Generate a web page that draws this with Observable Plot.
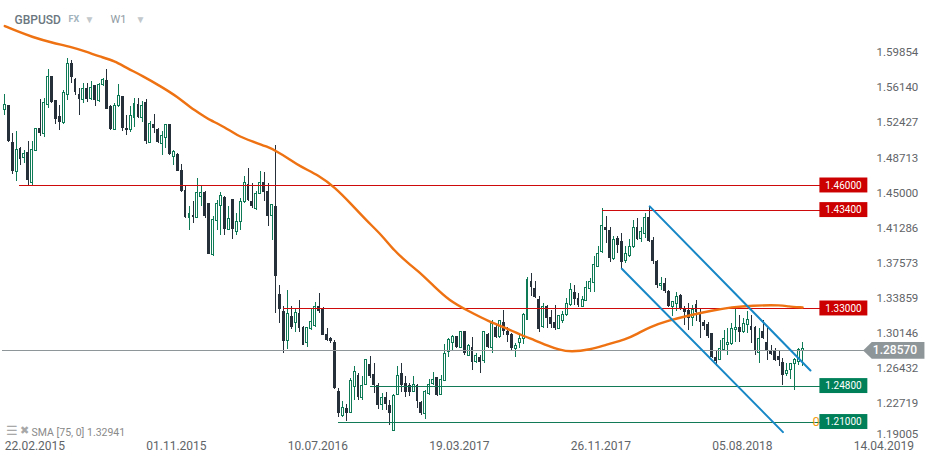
<!DOCTYPE html>
<html><head><meta charset="utf-8">
<script src="https://cdn.jsdelivr.net/npm/d3@7"></script>
<script src="https://cdn.jsdelivr.net/npm/@observablehq/plot@0.6"></script>
<style>html,body{margin:0;padding:0;background:#fff}svg{display:block}</style>
</head><body><div id="chart"></div>
<script>
const opens=[1.5401,1.5447,1.5056,1.4743,1.4990,1.4891,1.4947,1.4627,1.4965,1.5200,1.5148,1.5454,1.5753,1.5500,1.5324,1.5261,1.5560,1.5887,1.5718,1.5563,1.5507,1.5627,1.5514,1.5658,1.5493,1.5665,1.5711,1.5437,1.5183,1.5437,1.5542,1.5204,1.5190,1.5317,1.5458,1.5317,1.5475,1.5053,1.5247,1.5194,1.5042,1.5106,1.5247,1.4902,1.4930,1.4761,1.4550,1.4261,1.4286,1.4261,1.4479,1.4521,1.4409,1.3863,1.4226,1.4381,1.4472,1.4127,1.4451,1.4110,1.4215,1.4426,1.4613,1.4426,1.4356,1.4514,1.4630,1.4539,1.4275,1.4381,1.3449,1.3266,1.2956,1.3216,1.3149,1.3244,1.3097,1.2935,1.3082,1.3118,1.3322,1.3297,1.3026,1.2980,1.2945,1.2421,1.2160,1.2245,1.2195,1.2470,1.2593,1.2350,1.2491,1.2706,1.2604,1.2488,1.2280,1.2364,1.2276,1.2005,1.2386,1.2611,1.2505,1.2488,1.2417,1.2488,1.2305,1.2181,1.2393,1.2498,1.2569,1.2389,1.2533,1.2840,1.2935,1.3005,1.2885,1.3054,1.2801,1.2885,1.2730,1.2780,1.2745,1.3026,1.2885,1.3104,1.2998,1.3156,1.3061,1.3026,1.2871,1.2935,1.2975,1.3182,1.3590,1.3510,1.3397,1.3105,1.3316,1.3203,1.3150,1.3087,1.3168,1.3228,1.3334,1.3464,1.3408,1.3316,1.3379,1.3510,1.3570,1.3738,1.3900,1.4161,1.4119,1.3823,1.4041,1.4006,1.3802,1.3858,1.3950,1.4154,1.4034,1.4090,1.4259,1.4020,1.3798,1.3534,1.3562,1.3481,1.3316,1.3344,1.3439,1.3288,1.3281,1.3203,1.3344,1.3246,1.3150,1.3130,1.3034,1.2777,1.2753,1.2858,1.2915,1.2922,1.3077,1.3101,1.3056,1.3126,1.3112,1.3098,1.2834,1.3052,1.2943,1.2858,1.2848,1.2795,1.2732,1.2605,1.2647,1.2718,1.2735,1.2851];
const highs=[1.5563,1.5447,1.5148,1.5173,1.5000,1.4972,1.5060,1.5070,1.5200,1.5507,1.5518,1.5824,1.5753,1.5500,1.5447,1.5606,1.5940,1.5922,1.5729,1.5623,1.5676,1.5676,1.5701,1.5658,1.5676,1.5729,1.5827,1.5447,1.5465,1.5665,1.5542,1.5342,1.5430,1.5518,1.5518,1.5490,1.5507,1.5271,1.5352,1.5200,1.5166,1.5247,1.5247,1.4965,1.4937,1.4824,1.4602,1.4381,1.4426,1.4673,1.4602,1.4532,1.4409,1.4268,1.4444,1.4521,1.4479,1.4374,1.4451,1.4303,1.4462,1.4690,1.4778,1.4620,1.4532,1.4743,1.4733,1.4620,1.4402,1.5025,1.3544,1.3322,1.3491,1.3322,1.3304,1.3385,1.3110,1.3104,1.3287,1.3360,1.3456,1.3308,1.3086,1.2998,1.2963,1.2452,1.2312,1.2283,1.2558,1.2688,1.2611,1.2576,1.2752,1.2794,1.2716,1.2512,1.2400,1.2417,1.2329,1.2393,1.2688,1.2716,1.2583,1.2512,1.2583,1.2495,1.2312,1.2428,1.2547,1.2628,1.2569,1.2593,1.2920,1.2980,1.3016,1.3005,1.3058,1.3058,1.2920,1.2991,1.2822,1.2804,1.3054,1.3040,1.3174,1.3146,1.3174,1.3280,1.3104,1.3033,1.2935,1.3016,1.3246,1.3626,1.3668,1.3590,1.3422,1.3351,1.3334,1.3281,1.3334,1.3228,1.3263,1.3404,1.3562,1.3545,1.3457,1.3422,1.3580,1.3615,1.3851,1.3957,1.4354,1.4273,1.4154,1.4062,1.4062,1.4090,1.3957,1.4027,1.4231,1.4256,1.4161,1.4302,1.4379,1.4048,1.3809,1.3626,1.3615,1.3492,1.3369,1.3467,1.3450,1.3316,1.3351,1.3334,1.3386,1.3288,1.3175,1.3147,1.3034,1.2858,1.2964,1.3063,1.3087,1.3140,1.3316,1.3228,1.3193,1.3263,1.3228,1.3105,1.3087,1.3175,1.3087,1.2911,1.2876,1.2841,1.2770,1.2718,1.2718,1.2770,1.2876,1.2940];
const lows=[1.5342,1.5050,1.4719,1.4645,1.4814,1.4831,1.4602,1.4585,1.4965,1.5113,1.5106,1.5412,1.5465,1.5247,1.5183,1.5247,1.5500,1.5676,1.5553,1.5342,1.5465,1.5482,1.5500,1.5440,1.5472,1.5648,1.5405,1.5176,1.5176,1.5423,1.5166,1.5130,1.5159,1.5218,1.5306,1.5264,1.5032,1.5050,1.5148,1.5042,1.4912,1.4990,1.4912,1.4814,1.4743,1.4525,1.4250,1.4127,1.4198,1.4250,1.4374,1.4250,1.3874,1.3852,1.4127,1.4074,1.4074,1.4120,1.4029,1.4074,1.4127,1.4409,1.4433,1.4356,1.4338,1.4507,1.4426,1.4162,1.4022,1.3245,1.3139,1.2822,1.2864,1.3079,1.3051,1.3044,1.2910,1.2885,1.3068,1.3104,1.3251,1.3016,1.2956,1.2935,1.2442,1.2153,1.2153,1.2107,1.2188,1.2329,1.2329,1.2329,1.2488,1.2558,1.2400,1.2231,1.2224,1.2224,1.2065,1.2005,1.2382,1.2417,1.2364,1.2371,1.2417,1.2241,1.2171,1.2129,1.2382,1.2488,1.2371,1.2382,1.2533,1.2787,1.2857,1.2875,1.2875,1.2804,1.2794,1.2646,1.2716,1.2611,1.2716,1.2875,1.2822,1.2980,1.2987,1.3016,1.2945,1.2850,1.2780,1.2875,1.2922,1.3168,1.3429,1.3404,1.3041,1.3087,1.3087,1.3087,1.3070,1.3077,1.3140,1.3217,1.3316,1.3334,1.3309,1.3309,1.3369,1.3474,1.3474,1.3731,1.3879,1.3992,1.3781,1.3809,1.3879,1.3721,1.3774,1.3844,1.3932,1.4020,1.4002,1.4038,1.4002,1.3767,1.3510,1.3492,1.3457,1.3309,1.3217,1.3263,1.3281,1.3122,1.3070,1.3105,1.3158,1.2982,1.3070,1.2982,1.2770,1.2682,1.2746,1.2851,1.2806,1.2911,1.2936,1.2936,1.3034,1.3034,1.2929,1.2806,1.2718,1.2975,1.2746,1.2806,1.2742,1.2682,1.2489,1.2584,1.2549,1.2429,1.2700,1.2682];
const closes=[1.5454,1.5060,1.4750,1.4979,1.4877,1.4930,1.4655,1.4979,1.5200,1.5148,1.5475,1.5750,1.5482,1.5296,1.5268,1.5581,1.5887,1.5746,1.5581,1.5514,1.5623,1.5514,1.5634,1.5493,1.5665,1.5711,1.5408,1.5190,1.5444,1.5542,1.5200,1.5176,1.5338,1.5458,1.5317,1.5444,1.5060,1.5254,1.5197,1.5050,1.5127,1.5243,1.4923,1.4951,1.4743,1.4532,1.4261,1.4303,1.4261,1.4525,1.4525,1.4268,1.3874,1.4240,1.4402,1.4493,1.4134,1.4250,1.4134,1.4215,1.4426,1.4630,1.4444,1.4381,1.4514,1.4630,1.4521,1.4268,1.4391,1.3643,1.3294,1.2956,1.3237,1.3104,1.3255,1.3086,1.2914,1.3097,1.3156,1.3315,1.3273,1.3019,1.2963,1.2949,1.2449,1.2188,1.2245,1.2195,1.2537,1.2625,1.2357,1.2484,1.2752,1.2583,1.2488,1.2276,1.2350,1.2287,1.2195,1.2378,1.2583,1.2484,1.2414,1.2417,1.2488,1.2312,1.2188,1.2414,1.2488,1.2547,1.2378,1.2547,1.2822,1.2970,1.2998,1.2892,1.3054,1.2829,1.2899,1.2730,1.2801,1.2730,1.3047,1.2885,1.3132,1.2998,1.3167,1.3061,1.3016,1.2875,1.2899,1.2980,1.3228,1.3605,1.3527,1.3411,1.3077,1.3316,1.3193,1.3133,1.3087,1.3217,1.3235,1.3351,1.3492,1.3393,1.3334,1.3386,1.3520,1.3580,1.3756,1.3879,1.4168,1.4126,1.3823,1.4027,1.3967,1.3791,1.3872,1.3950,1.4154,1.4027,1.4112,1.4259,1.4013,1.3795,1.3538,1.3562,1.3478,1.3316,1.3369,1.3422,1.3288,1.3260,1.3196,1.3281,1.3253,1.3147,1.3112,1.3006,1.2777,1.2739,1.2876,1.2982,1.2939,1.3087,1.3098,1.3041,1.3140,1.3175,1.3070,1.2844,1.2982,1.2982,1.2841,1.2816,1.2746,1.2746,1.2591,1.2640,1.2710,1.2760,1.2865,1.2872];

const smaWeeks=[0,3,7,12,17,21,24,28,31,35,40,44,47,51,52,56,59,63,67,69,72,75,80,84,88,92,96,99,103,105,109,113,118,123,129,131,135,138,141,144,149,153,158,161,164,169,174,180,185,190,198,199,203];
const smaValues=[1.6285,1.6232,1.6169,1.6109,1.6063,1.6010,1.5965,1.5915,1.5841,1.5760,1.5640,1.5535,1.5430,1.5324,1.5296,1.5218,1.5130,1.5064,1.5007,1.4965,1.4891,1.4803,1.4706,1.4579,1.4410,1.4230,1.4072,1.3913,1.3766,1.3702,1.3544,1.3385,1.3272,1.3166,1.3068,1.3026,1.2962,1.2909,1.2864,1.2839,1.2864,1.2917,1.2973,1.3033,1.3103,1.3174,1.3226,1.3279,1.3314,1.3332,1.3335,1.3322,1.3311];

const levelPrices=[1.46,1.434,1.33,1.248,1.21];
const levelStartWeeks=[3.8,152,70.9,93,85];
const levelColors=["#cf0a0a","#cf0a0a","#cf0a0a","#127a57","#127a57"];
const labelColors=["#cc0000","#cc0000","#cc0000","#008059","#008059"];

const channelUpperWeeks=[164.1,205], channelUpperPrices=[1.4379,1.2645];
const channelLowerWeeks=[157,198], channelLowerPrices=[1.3720,1.1993];

const lastPrice=1.2857;
const dateTicks=["2015-02-22","2015-11-01","2016-07-10","2017-03-19","2017-11-26","2018-08-05","2019-04-14"];
const priceTicks=[1.59854,1.5614,1.52427,1.48713,1.45,1.41286,1.37573,1.33859,1.30146,1.26432,1.22719];
const lowestTick=1.19005;

const t0=Date.UTC(2015,1,22), DAY=864e5, WEEK=7*DAY;
const wk=w=>new Date(t0+w*WEEK);
const candles=opens.map((o,i)=>({date:wk(i),t:t0+i*WEEK,o,h:highs[i],l:lows[i],c:closes[i],up:closes[i]>=o}));
const ups=candles.filter(d=>d.up), downs=candles.filter(d=>!d.up);
const sma=smaWeeks.map((w,i)=>({date:wk(w),v:smaValues[i]}));
const levels=levelPrices.map((p,i)=>({p,start:wk(levelStartWeeks[i]),line:levelColors[i],fill:labelColors[i]}));
const GREEN="#0f7a56", DARK="#25303a", ORANGE="#ee7112", BLUE="#1787c6", TAG="#8f9699", INK="#5f6468";
const halfBox=0.0079;
const tagHalf=0.0089;
const tagOutline=[[218.4,lastPrice],[220.6,lastPrice+tagHalf],[234,lastPrice+tagHalf],[234,lastPrice-tagHalf],[220.6,lastPrice-tagHalf],[218.4,lastPrice]];
const labelMid=wk(213.4);
const font="Roboto";

const chart=Plot.plot({
  width:935,height:464,marginTop:0,marginBottom:26,marginLeft:0,marginRight:62,
  style:{fontFamily:font,background:"#fff",overflow:"visible"},
  x:{type:"utc",domain:[wk(0),wk(216)],range:[4.3,853.2],axis:null},
  y:{domain:[1.18,1.62],range:[449.9,33.6],axis:null},
  marks:[
    Plot.ruleX(ups,{x:"date",y1:"l",y2:"h",stroke:GREEN,strokeWidth:1,shapeRendering:"crispEdges"}),
    Plot.ruleX(downs,{x:"date",y1:"l",y2:"h",stroke:DARK,strokeWidth:1,shapeRendering:"crispEdges"}),
    Plot.rect(ups,{x1:d=>new Date(d.t-1.75*DAY),x2:d=>new Date(d.t+1.75*DAY),y1:"o",y2:"c",fill:"#fff",stroke:GREEN,strokeWidth:1,shapeRendering:"crispEdges"}),
    Plot.rect(downs,{x1:d=>new Date(d.t-2.5*DAY),x2:d=>new Date(d.t+2.5*DAY),y1:"o",y2:"c",fill:DARK,shapeRendering:"crispEdges"}),
    Plot.ruleY([lastPrice],{x1:wk(-0.6),x2:wk(219),stroke:"#8f9699",strokeWidth:1,shapeRendering:"crispEdges"}),
    Plot.ruleY(levels,{y:"p",x1:"start",x2:wk(207.5),stroke:"line",strokeWidth:1,shapeRendering:"crispEdges"}),
    Plot.line(sma,{x:"date",y:"v",stroke:ORANGE,strokeWidth:2.4,curve:"basis"}),
    Plot.line(channelUpperWeeks.map((w,i)=>({x:wk(w),y:channelUpperPrices[i]})),{x:"x",y:"y",stroke:BLUE,strokeWidth:2}),
    Plot.line(channelLowerWeeks.map((w,i)=>({x:wk(w),y:channelLowerPrices[i]})),{x:"x",y:"y",stroke:BLUE,strokeWidth:2}),
    Plot.text(["0"],{x:wk(207.4),y:1.21,textAnchor:"end",fill:"#f39c12",fontSize:13}),
    Plot.rect(levels,{x1:wk(207.4),x2:wk(219.6),y1:d=>d.p-halfBox,y2:d=>d.p+halfBox,fill:"fill"}),
    Plot.text(levels,{x:labelMid,y:"p",text:d=>d.p.toFixed(5),fill:"#fff",fontSize:10}),
    Plot.line(tagOutline,{x:d=>wk(d[0]),y:d=>d[1],fill:TAG,stroke:"none"}),
    Plot.text([lastPrice],{x:wk(226.5),y:d=>d,text:d=>d.toFixed(5),fill:"#fff",fontSize:12,fontWeight:500}),
    Plot.axisY(priceTicks,{anchor:"right",tickSize:0,tickPadding:3,dy:-2,fontSize:11.5,fill:INK,tickFormat:d=>d.toFixed(5),label:null}),
    Plot.axisY([lowestTick],{anchor:"right",tickSize:0,tickPadding:3,dy:-7,fontSize:11.5,fill:INK,tickFormat:d=>d.toFixed(5),label:null}),
    Plot.axisX(dateTicks.map(d=>new Date(d)),{anchor:"bottom",tickSize:0,tickPadding:3,textAnchor:"start",fontSize:12,fill:INK,label:null,
      tickFormat:d3.utcFormat("%d.%m.%Y")}),
    Plot.text(["GBPUSD"],{frameAnchor:"top-left",dx:14,dy:15,textAnchor:"start",fontSize:12,fontWeight:500,fill:"#6b7780"}),
    Plot.text(["FX"],{frameAnchor:"top-left",dx:68,dy:15,textAnchor:"start",fontSize:9,fontWeight:700,fill:"#a3b3be"}),
    Plot.text(["▼"],{frameAnchor:"top-left",dx:84,dy:15,textAnchor:"start",fontSize:10,fill:"#c2c8cc"}),
    Plot.text(["W1"],{frameAnchor:"top-left",dx:110,dy:15,textAnchor:"start",fontSize:11,fill:"#8f9ba3"}),
    Plot.text(["▼"],{frameAnchor:"top-left",dx:135,dy:15,textAnchor:"start",fontSize:10,fill:"#c2c8cc"}),
    Plot.text(["☰"],{frameAnchor:"top-left",dx:5,dy:425,textAnchor:"start",fontSize:13,fill:"#a8a8a8"}),
    Plot.text(["✖"],{frameAnchor:"top-left",dx:19,dy:426,textAnchor:"start",fontSize:11,fill:"#a8a8a8"}),
    Plot.text(["SMA [75, 0] 1.32941"],{frameAnchor:"top-left",dx:31,dy:428,textAnchor:"start",fontSize:10.5,fill:"#8a8a8a"})
  ]
});
document.getElementById("chart").appendChild(chart);
</script></body></html>
